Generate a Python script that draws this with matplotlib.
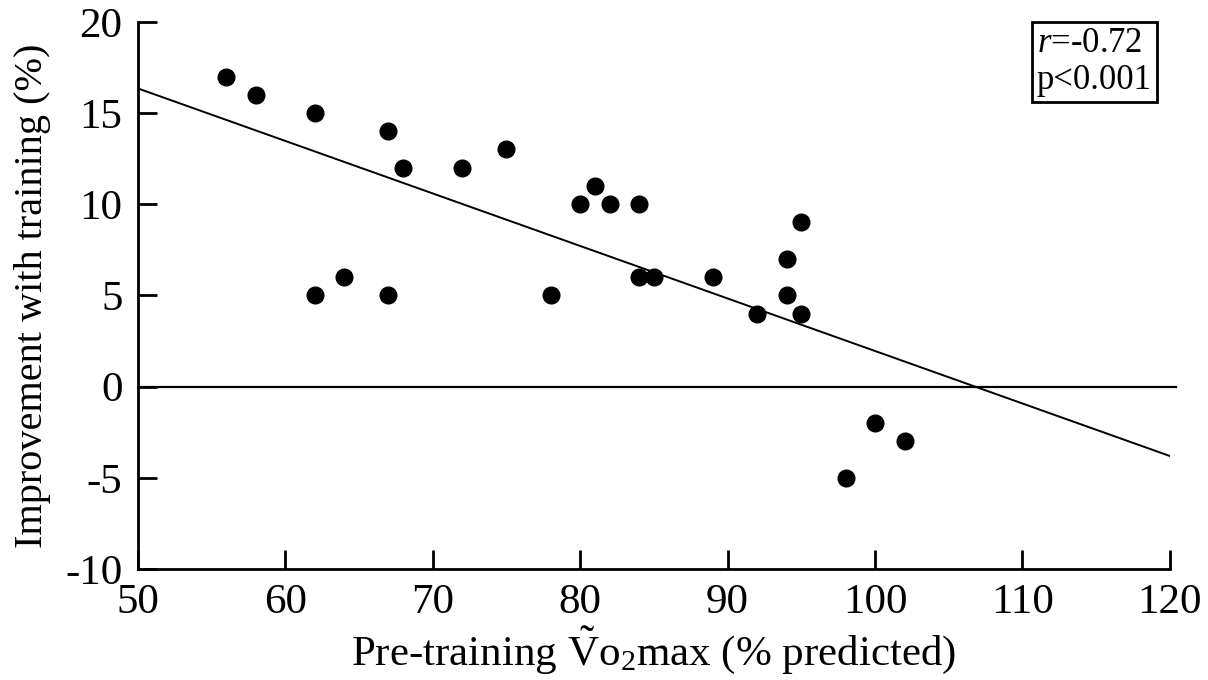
import matplotlib
matplotlib.use('Agg')
import matplotlib.pyplot as plt
import numpy as np

# pre-training VO2max (% predicted) and improvement with training (%)
vo2max = [56, 58, 62, 62, 64, 67, 67, 68, 72, 75, 78, 80, 81, 82, 84, 84, 85,
          89, 92, 94, 94, 95, 95, 98, 100, 102]
improvement = [17, 16, 15, 5, 6, 14, 5, 12, 12, 13, 5, 10, 11, 10, 10, 6, 6,
               6, 4, 7, 5, 9, 4, -5, -2, -3]

# regression line as drawn in the figure
fit_x = [50, 120]
fit_y = [16.35, -3.8]

x_ticks = [50, 60, 70, 80, 90, 100, 110, 120]
y_ticks = [-10, -5, 0, 5, 10, 15, 20]

plt.rcParams['font.family'] = ['Liberation Serif', 'DejaVu Serif']
plt.rcParams['mathtext.fontset'] = 'custom'
plt.rcParams['mathtext.rm'] = 'Liberation Serif'
plt.rcParams['mathtext.it'] = 'Liberation Serif:italic'
plt.rcParams['axes.unicode_minus'] = False

fig = plt.figure(figsize=(12.08, 6.8), dpi=100)
ax = fig.add_axes([0.114, 0.163, 0.8545, 0.805])

ax.plot(vo2max, improvement, 'o', color='black', markersize=12)
ax.plot(fit_x, fit_y, color='black', linewidth=1.4)
ax.plot([50, 120.4], [0, 0], color='black', linewidth=1.6, clip_on=False)

ax.set_xlim(50, 120)
ax.set_ylim(-10, 20)
ax.set_xticks(x_ticks)
ax.set_yticks(y_ticks)
ax.spines['top'].set_visible(False)
ax.spines['right'].set_visible(False)
ax.spines['left'].set_linewidth(2)
ax.spines['bottom'].set_linewidth(2)
ax.tick_params(direction='in', length=14, width=2, labelsize=31)
ax.tick_params(axis='y', pad=11)
ax.tick_params(axis='x', pad=10)

ax.set_xlabel(r'Pre-training $\mathrm{\tilde{V}o_2}$max (% predicted)', fontsize=31, labelpad=2)
ax.set_ylabel('Improvement with training (%)', fontsize=29, labelpad=10)

ax.text(0.871, 0.99, r'$\it{r}$=-0.72' + '\np<0.001', transform=ax.transAxes,
        fontsize=25, ha='left', va='top', linespacing=1.15,
        bbox=dict(boxstyle='square,pad=0.15', facecolor='white', edgecolor='black', linewidth=2))

fig.savefig('out.png', dpi=100)
